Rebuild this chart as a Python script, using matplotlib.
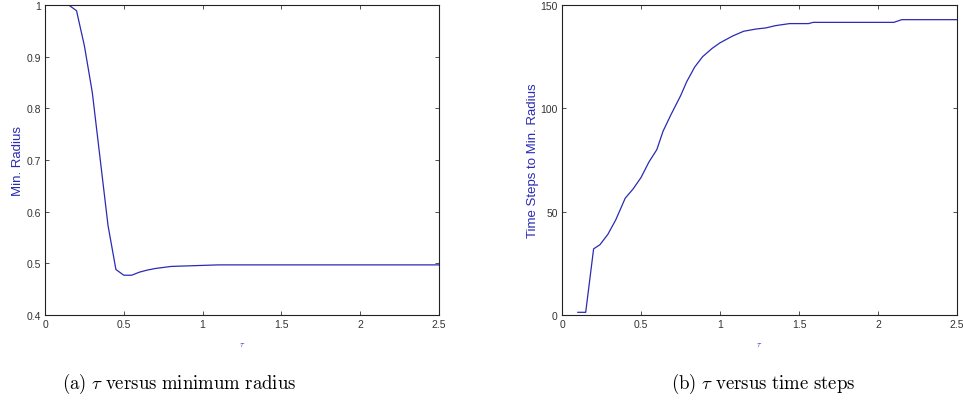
import matplotlib
matplotlib.use("Agg")
import matplotlib.pyplot as plt

# Data (a): tau vs minimum radius
tau_a = [0.10, 0.15, 0.20, 0.25, 0.30, 0.35, 0.40, 0.45, 0.50, 0.55, 0.60,
         0.65, 0.70, 0.80, 0.90, 1.00, 1.10, 1.50, 2.00, 2.50]
min_radius = [1.000, 1.000, 0.989, 0.921, 0.831, 0.702, 0.573, 0.488, 0.477,
              0.477, 0.483, 0.487, 0.490, 0.494, 0.495, 0.496, 0.497, 0.497,
              0.497, 0.497]

# Data (b): tau vs time steps to min radius
tau_b = [0.10, 0.15, 0.20, 0.24, 0.29, 0.34, 0.40, 0.45, 0.50, 0.55, 0.60,
         0.64, 0.69, 0.75, 0.79, 0.84, 0.89, 0.95, 1.00, 1.08, 1.15, 1.23,
         1.29, 1.35, 1.44, 1.56, 1.59, 2.10, 2.15, 2.50]
time_steps = [1.3, 1.3, 32, 34, 39, 46, 56.5, 61, 66.5, 74, 80, 89, 97, 106,
              113, 120, 125, 129, 131.7, 135, 137.3, 138.4, 138.9, 140, 141,
              141, 141.6, 141.6, 142.9, 142.9]

xticks = [0, 0.5, 1, 1.5, 2, 2.5]
xtick_labels = ["0", "0.5", "1", "1.5", "2", "2.5"]
yticks_a = [0.4, 0.5, 0.6, 0.7, 0.8, 0.9, 1.0]
ytick_labels_a = ["0.4", "0.5", "0.6", "0.7", "0.8", "0.9", "1"]
yticks_b = [0, 50, 100, 150]
ytick_labels_b = ["0", "50", "100", "150"]

LINE = "#2a2ab4"
plt.rcParams["font.family"] = ["Liberation Sans", "DejaVu Sans"]
plt.rcParams["mathtext.fontset"] = "cm"

fig = plt.figure(figsize=(9.63, 4.06), dpi=100)
ax1 = fig.add_axes([45 / 963, 90 / 406, 394 / 963, 310 / 406])
ax2 = fig.add_axes([562 / 963, 90 / 406, 395 / 963, 310 / 406])

def style(ax):
    ax.tick_params(direction="in", top=True, right=True, length=3, width=0.6,
                   labelsize=7.5, colors="#333333", pad=3)
    for s in ax.spines.values():
        s.set_linewidth(0.8)
        s.set_color("#222222")

ax1.plot(tau_a, min_radius, color=LINE, lw=0.9)
ax1.set_xlim(0, 2.5)
ax1.set_ylim(0.4, 1.0)
ax1.set_xticks(xticks, xtick_labels)
ax1.set_yticks(yticks_a, ytick_labels_a)
ax1.set_ylabel("Min. Radius", color=LINE, fontsize=9.5, labelpad=2)
ax1.set_xlabel(r"$\tau$", color=LINE, fontsize=6, labelpad=8)
style(ax1)

ax2.plot(tau_b, time_steps, color=LINE, lw=0.9)
ax2.set_xlim(0, 2.5)
ax2.set_ylim(0, 150)
ax2.set_xticks(xticks, xtick_labels)
ax2.set_yticks(yticks_b, ytick_labels_b)
ax2.set_ylabel("Time Steps to Min. Radius", color=LINE, fontsize=9.5, labelpad=1)
ax2.set_xlabel(r"$\tau$", color=LINE, fontsize=6, labelpad=8)
style(ax2)

fig.text(179 / 963, (406 - 384) / 406,
         r"$\mathrm{(a)}\ \tau\ \mathrm{versus\ minimum\ radius}$",
         ha="center", va="center", fontsize=13.5, color="black")
fig.text(763 / 963, (406 - 384) / 406,
         r"$\mathrm{(b)}\ \tau\ \mathrm{versus\ time\ steps}$",
         ha="center", va="center", fontsize=13.5, color="black")

fig.savefig("out.png", dpi=100)
